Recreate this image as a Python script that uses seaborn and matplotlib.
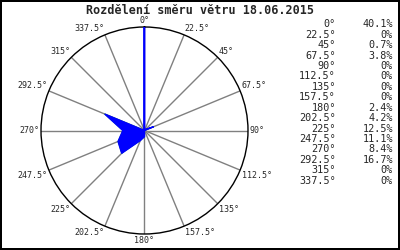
import numpy as np
import matplotlib
matplotlib.use("Agg")
import matplotlib.pyplot as plt
import seaborn as sns
import pandas as pd

directions = [0, 22.5, 45, 67.5, 90, 112.5, 135, 157.5, 180, 202.5, 225, 247.5, 270, 292.5, 315, 337.5]
percents = [40.1, 0, 0.7, 3.8, 0, 0, 0, 0, 2.4, 4.2, 12.5, 11.1, 8.4, 16.7, 0, 0]
title = "Rozdělení směru větru 18.06.2015"

sns.set_style("white")
plt.rcParams['font.family'] = ['DejaVu Sans Mono', 'DejaVu Sans']

fig = plt.figure(figsize=(4, 2.5), dpi=100, linewidth=1.5, edgecolor='black')
ax = fig.add_axes([0.1025, 0.064, 0.5175, 0.828], projection='polar')
ax.set_theta_zero_location('N')
ax.set_theta_direction(-1)

df = pd.DataFrame({'theta': np.deg2rad(directions + [directions[0]]),
                   'r': percents + [percents[0]]})
ax.fill(df['theta'], df['r'], color='#0000ff', zorder=3)
sns.lineplot(data=df, x='theta', y='r', sort=False, ax=ax, color='#00cc00',
             linewidth=0.6, zorder=2)
ax.plot([0, 0], [0, percents[0]], color='#0000ff', linewidth=1.2, zorder=4)

rmax = max(percents)
ax.set_ylim(0, rmax)
ax.set_yticks([])
ax.set_xlabel('')
ax.set_ylabel('')
fmt = lambda d: (f"{d:g}°")
ax.set_thetagrids(directions, [''] * len(directions))
ax.xaxis.grid(True, color='#808080', linewidth=1)
ax.spines['polar'].set_color('#000000')
ax.spines['polar'].set_linewidth(1)

for d in directions:
    s, c = np.sin(np.deg2rad(d)), np.cos(np.deg2rad(d))
    ha = 'left' if s > 0.1 else ('right' if s < -0.1 else 'center')
    va = 'bottom' if c > 0.1 else ('top' if c < -0.1 else 'center')
    ax.text(np.deg2rad(d), rmax * 1.015, fmt(d), ha=ha, va=va, fontsize=6,
            clip_on=False)

fig.text(0.5, 0.958, title, ha='center', va='center', fontsize=8.5, fontweight='bold')

for i, (d, p) in enumerate(zip(directions, percents)):
    y = 1 - (24.3 + i * 10.43) / 250
    fig.text(336 / 400, y, fmt(d), ha='right', va='center', fontsize=7.3)
    ptxt = "0%" if p == 0 else f"{p:.1f}%"
    fig.text(393 / 400, y, ptxt, ha='right', va='center', fontsize=7.3)

fig.savefig('out.png', dpi=100)
